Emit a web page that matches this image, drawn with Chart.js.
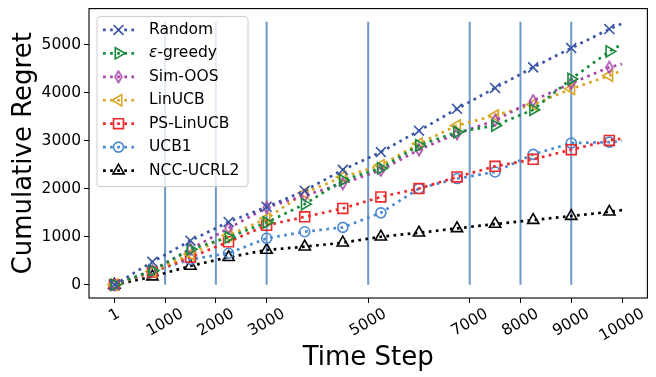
<!DOCTYPE html>
<html>
<head>
<meta charset="utf-8">
<script src="https://cdn.jsdelivr.net/npm/chart.js@4.4.0/dist/chart.umd.min.js"></script>
<style>
  html, body { margin: 0; padding: 0; background: #fff; }
  canvas { display: block; }
</style>
</head>
<body>
<canvas id="regretChart" width="656" height="377"></canvas>
<script>
// values, one marker every 750 steps plus the end point
const timeSteps = [1, 750, 1500, 2250, 3000, 3750, 4500, 5250, 6000, 6750, 7500, 8250, 9000, 9750, 10000];
const randomRegret = [0, 480, 920, 1310, 1625, 1960, 2395, 2766, 3210, 3667, 4102, 4530, 4932, 5327, 5443];
const epsGreedyRegret = [0, 300, 740, 990, 1300, 1681, 2179, 2428, 2905, 3181, 3320, 3646, 4289, 4862, 5015];
const simOosRegret = [0, 300, 745, 1177, 1612, 1860, 2110, 2386, 2816, 3148, 3424, 3839, 4198, 4530, 4600];
const linUcbRegret = [0, 280, 640, 1030, 1384, 1915, 2247, 2490, 2940, 3320, 3528, 3756, 4082, 4358, 4461];
const psLinUcbRegret = [0, 270, 575, 898, 1239, 1417, 1591, 1832, 2006, 2247, 2469, 2614, 2816, 3009, 3044];
const ucb1Regret = [0, 276, 530, 658, 969, 1106, 1197, 1500, 2006, 2214, 2351, 2718, 2953, 2973, 2994];
const nccUcrl2Regret = [0, 172, 394, 575, 726, 795, 878, 1002, 1085, 1177, 1266, 1349, 1432, 1521, 1556];

const xTickSteps = [1, 1000, 2000, 3000, 5000, 7000, 8000, 9000, 10000];
const yTickValues = [0, 1000, 2000, 3000, 4000, 5000];
const vlineSteps = [1000, 2000, 3000, 5000, 7000, 8000, 9000];
const vlineTop = 5480;

const FONT = '"DejaVu Sans", sans-serif';
const TICK_SIZE = 15.5;
const X_LABEL_ANGLE = 30;

// matplotlib style thin diamond marker
function thinDiamond(color) {
    const c = document.createElement('canvas');
    c.width = 10;
    c.height = 14;
    const g = c.getContext('2d');
    g.strokeStyle = color;
    g.lineWidth = 1.6;
    g.beginPath();
    g.moveTo(5, 1.3);
    g.lineTo(8.4, 7);
    g.lineTo(5, 12.7);
    g.lineTo(1.6, 7);
    g.closePath();
    g.stroke();
    return c;
}

const series = [
    { label: 'Random', values: randomRegret, color: '#3a55a4', pointStyle: 'crossRot', radius: 7, rotation: 0 },
    { label: 'ε-greedy', values: epsGreedyRegret, color: '#178a3c', pointStyle: 'triangle', radius: 6.5, rotation: 90 },
    { label: 'Sim-OOS', values: simOosRegret, color: '#a845a8', pointStyle: thinDiamond('#a845a8'), radius: 7, rotation: 0 },
    { label: 'LinUCB', values: linUcbRegret, color: '#daa520', pointStyle: 'triangle', radius: 6.5, rotation: -90 },
    { label: 'PS-LinUCB', values: psLinUcbRegret, color: '#f02828', pointStyle: 'rect', radius: 7, rotation: 0 },
    { label: 'UCB1', values: ucb1Regret, color: '#4a89d2', pointStyle: 'circle', radius: 5, rotation: 0 },
    { label: 'NCC-UCRL2', values: nccUcrl2Regret, color: '#000000', pointStyle: 'triangle', radius: 6.5, rotation: 0 }
];

const LINE_W = 2.7;
const DASH = [2.7, 4.4];

const datasets = series.map(s => ({
    label: s.label,
    data: timeSteps.map((t, i) => ({ x: t, y: s.values[i] })),
    borderColor: s.color,
    borderWidth: LINE_W,
    borderDash: DASH,
    pointStyle: s.pointStyle,
    pointRotation: s.rotation,
    pointRadius: ctx => ctx.dataIndex === timeSteps.length - 1 ? 0 : s.radius,
    pointBorderColor: s.color,
    pointBackgroundColor: 'rgba(0,0,0,0)',
    pointBorderWidth: 1.6,
    fill: false,
    tension: 0,
    order: 1
}));

vlineSteps.forEach(v => {
    datasets.push({
        label: '_vline',
        data: [{ x: v, y: 0 }, { x: v, y: vlineTop }],
        borderColor: '#6f98c8',
        borderWidth: 2,
        pointRadius: 0,
        fill: false,
        order: 5
    });
});

// frame round the plot area
const framePlugin = {
    id: 'frame',
    afterDatasetsDraw(chart) {
        const { ctx, chartArea: a } = chart;
        ctx.save();
        ctx.strokeStyle = '#000';
        ctx.lineWidth = 1.1;
        ctx.strokeRect(a.left, a.top, a.right - a.left, a.bottom - a.top);
        ctx.restore();
    }
};

// rotated x tick labels, centred on the tick like matplotlib
const xLabelPlugin = {
    id: 'xLabels',
    afterDraw(chart) {
        const ctx = chart.ctx;
        const xs = chart.scales.x;
        const th = X_LABEL_ANGLE * Math.PI / 180;
        ctx.save();
        ctx.font = TICK_SIZE + 'px ' + FONT;
        ctx.fillStyle = '#000';
        ctx.textAlign = 'center';
        ctx.textBaseline = 'middle';
        xTickSteps.forEach(v => {
            const px = xs.getPixelForValue(v);
            const label = String(v);
            const w = ctx.measureText(label).width;
            const h = TICK_SIZE * 1.1;
            const H = w * Math.sin(th) + h * Math.cos(th);
            const cy = xs.top + 5 + 2.5 + H / 2;
            ctx.save();
            ctx.translate(px, cy);
            ctx.rotate(-th);
            ctx.fillText(label, 0, 0);
            ctx.restore();
        });
        ctx.restore();
    }
};

// legend in the upper left corner of the axes
const legendPlugin = {
    id: 'insetLegend',
    afterDraw(chart) {
        const ctx = chart.ctx;
        const a = chart.chartArea;
        const bx = a.left + 8, by = a.top + 8, bw = 151, bh = 170, r = 3;
        ctx.save();
        ctx.beginPath();
        ctx.moveTo(bx + r, by);
        ctx.lineTo(bx + bw - r, by);
        ctx.arcTo(bx + bw, by, bx + bw, by + r, r);
        ctx.lineTo(bx + bw, by + bh - r);
        ctx.arcTo(bx + bw, by + bh, bx + bw - r, by + bh, r);
        ctx.lineTo(bx + r, by + bh);
        ctx.arcTo(bx, by + bh, bx, by + bh - r, r);
        ctx.lineTo(bx, by + r);
        ctx.arcTo(bx, by, bx + r, by, r);
        ctx.closePath();
        ctx.fillStyle = 'rgba(255,255,255,0.8)';
        ctx.fill();
        ctx.strokeStyle = '#cccccc';
        ctx.lineWidth = 1;
        ctx.stroke();

        const rowH = 23.45;
        series.forEach((s, i) => {
            const y = by + 13.3 + i * rowH;
            ctx.save();
            ctx.strokeStyle = s.color;
            ctx.lineWidth = LINE_W;
            ctx.setLineDash(DASH);
            ctx.beginPath();
            ctx.moveTo(bx + 6, y);
            ctx.lineTo(bx + 37, y);
            ctx.stroke();
            ctx.restore();

            ctx.save();
            ctx.strokeStyle = s.color;
            ctx.fillStyle = 'rgba(0,0,0,0)';
            ctx.lineWidth = 1.6;
            Chart.helpers.drawPoint(ctx, {
                pointStyle: s.pointStyle,
                rotation: s.rotation,
                radius: s.radius,
                borderWidth: 1.6
            }, bx + 21.5, y);
            ctx.restore();

            ctx.save();
            ctx.fillStyle = '#000';
            ctx.textBaseline = 'middle';
            ctx.textAlign = 'left';
            let tx = bx + 52;
            let text = s.label;
            if (text.startsWith('ε')) {
                ctx.font = 'italic ' + TICK_SIZE + 'px ' + FONT;
                ctx.fillText('ε', tx, y);
                tx += ctx.measureText('ε').width;
                text = text.slice(1);
            }
            ctx.font = TICK_SIZE + 'px ' + FONT;
            ctx.fillText(text, tx, y);
            ctx.restore();
        });
        ctx.restore();
    }
};

const ctx = document.getElementById('regretChart').getContext('2d');
new Chart(ctx, {
    type: 'line',
    data: { datasets: datasets },
    plugins: [framePlugin, xLabelPlugin, legendPlugin],
    options: {
        responsive: false,
        animation: false,
        layout: { padding: { left: 0, right: 8, top: 8, bottom: 0 } },
        plugins: {
            legend: { display: false },
            tooltip: { enabled: false }
        },
        scales: {
            x: {
                type: 'linear',
                min: -499,
                max: 10500,
                afterBuildTicks: s => { s.ticks = xTickSteps.map(v => ({ value: v })); },
                afterFit: s => {
                    s.height = 79;
                    s.paddingLeft = 0; s.paddingRight = 0;
                },
                border: { display: false },
                grid: { drawOnChartArea: false, color: '#000', tickColor: '#000', tickLength: 5, tickWidth: 1 },
                ticks: { display: false },
                title: {
                    display: true,
                    text: 'Time Step',
                    color: '#000',
                    font: { family: FONT, size: 26 },
                    padding: { top: 0, bottom: 3 }
                }
            },
            y: {
                type: 'linear',
                min: -274,
                max: 5754,
                afterBuildTicks: s => { s.ticks = yTickValues.map(v => ({ value: v })); },
                afterFit: s => {
                    s.width = 89;
                    s.paddingTop = 0; s.paddingBottom = 0;
                },
                border: { display: false },
                grid: { drawOnChartArea: false, color: '#000', tickColor: '#000', tickLength: 5, tickWidth: 1 },
                ticks: {
                    color: '#000',
                    padding: 3,
                    font: { family: FONT, size: TICK_SIZE },
                    callback: v => String(v)
                },
                title: {
                    display: true,
                    text: 'Cumulative Regret',
                    color: '#000',
                    font: { family: FONT, size: 26 },
                    padding: { top: 9, bottom: 0 }
                }
            }
        }
    }
});
</script>
</body>
</html>
